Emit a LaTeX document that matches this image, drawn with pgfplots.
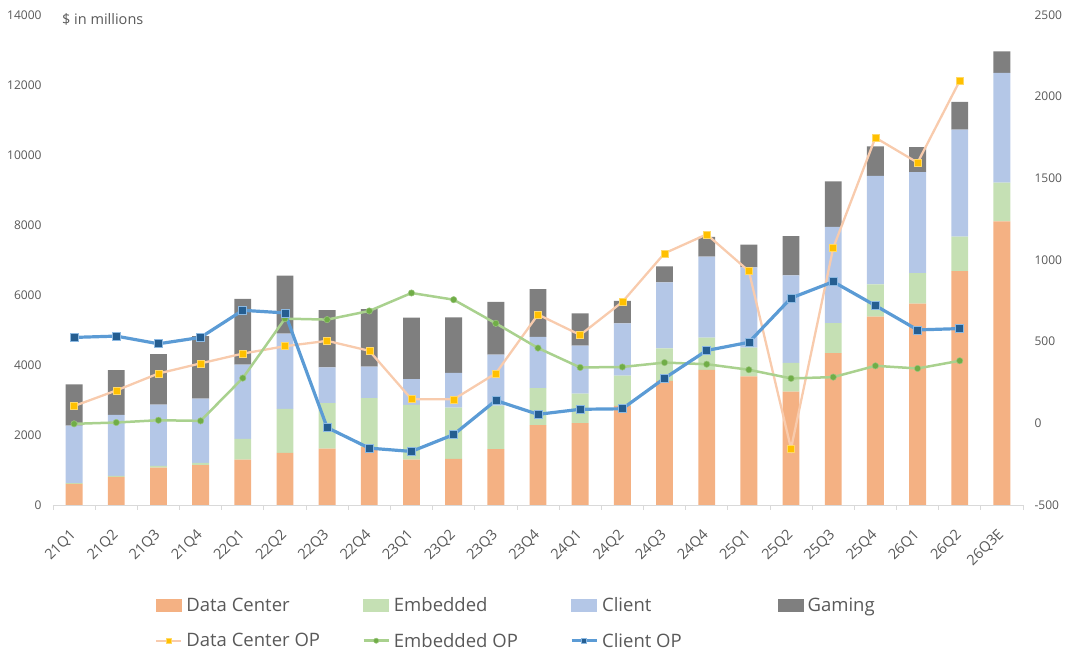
\documentclass[border=0pt]{standalone}
\usepackage{fontspec}
\setmainfont{Open Sans}
\usepackage{pgfplots}
\usepackage{pgfplotstable}
\pgfplotsset{compat=1.18}
\definecolor{dcbar}{HTML}{F4B183}
\definecolor{embbar}{HTML}{C5E0B4}
\definecolor{clibar}{HTML}{B4C7E7}
\definecolor{gambar}{HTML}{7F7F7F}
\definecolor{dcline}{HTML}{F8CBAD}
\definecolor{dcmark}{HTML}{FFC000}
\definecolor{embline}{HTML}{A9D18E}
\definecolor{embmark}{HTML}{70AD47}
\definecolor{cliline}{HTML}{5B9BD5}
\definecolor{climark}{HTML}{255E91}
\definecolor{txt}{HTML}{595959}
\definecolor{axg}{HTML}{D9D9D9}

\pgfplotstableread{
x DC Emb Cli Gam
0 600 25 1640 1180
1 800 30 1748 1272
2 1070 50 1748 1445
3 1140 60 1841 1785
4 1293 595 2124 1875
5 1486 1257 2152 1655
6 1609 1303 1022 1631
7 1655 1397 903 1644
8 1295 1562 739 1757
9 1321 1459 998 1581
10 1598 1243 1453 1506
11 2282 1057 1461 1368
12 2337 846 1368 922
13 2834 861 1492 648
14 3549 927 1881 462
15 3859 923 2313 563
16 3674 823 2294 647
17 3240 824 2499 1122
18 4341 857 2750 1295
19 5380 925 3100 840
20 5754 869 2887 715
21 6681 985 3061 791
22 8100 1111 3138 608
}\bars

\pgfplotstableread{
x DCOP EmbOP CliOP
0 106 -3 526
1 201 5 534
2 305 19 487
3 367 15 526
4 427 277 692
5 472 641 676
6 505 635 -26
7 444 688 -152
8 148 798 -172
9 147 757 -69
10 306 612 140
11 666 461 55
12 541 342 86
13 743 345 89
14 1041 372 276
15 1157 362 446
16 932 328 496
17 -155 275 767
18 1074 283 867
19 1749 352 721
20 1596 336 572
21 2097 383 580
}\ops

\begin{document}
\begin{tikzpicture}[x=1pt,y=1pt]
\useasboundingbox (0,0) rectangle (1080,661);
\begin{axis}[
  at={(53pt,156pt)}, anchor=south west, scale only axis,
  width=970pt, height=490pt,
  xmin=-0.5, xmax=22.5, ymin=0, ymax=14000,
  scaled y ticks=false,
  ybar stacked, bar width=0.4,
  axis x line*=bottom, axis y line*=left,
  x axis line style={axg, line width=0.8pt, -},
  y axis line style={draw=none},
  major tick length=0pt,
  xtick={0,...,22},
  xticklabels={21Q1,21Q2,21Q3,21Q4,22Q1,22Q2,22Q3,22Q4,23Q1,23Q2,23Q3,23Q4,24Q1,24Q2,24Q3,24Q4,25Q1,25Q2,25Q3,25Q4,26Q1,26Q2,26Q3E},
  minor xtick={-0.5,0.5,...,22.5},
  minor x tick style={axg, line width=0.8pt},
  minor tick length=5pt, tick align=outside,
  major x tick style={draw=none},
  major y tick style={draw=none},
  ytick={0,2000,...,14000},
  /pgf/number format/assume math mode=true,
  /pgf/number format/1000 sep={},
  yticklabel style={text=txt, font=\fontsize{12}{14}\selectfont, xshift=-8pt},
  xticklabel style={text=txt, font=\fontsize{14.5}{16}\selectfont, xshift=2pt, yshift=-25pt, rotate=45, anchor=east},
  every axis plot/.append style={draw=none},
]
\addplot[fill=dcbar] table[x=x,y=DC]{\bars};
\addplot[fill=embbar] table[x=x,y=Emb]{\bars};
\addplot[fill=clibar] table[x=x,y=Cli]{\bars};
\addplot[fill=gambar] table[x=x,y=Gam]{\bars};
\end{axis}

\begin{axis}[
  at={(53pt,156pt)}, anchor=south west, scale only axis,
  width=970pt, height=490pt,
  xmin=-0.5, xmax=22.5, ymin=-500, ymax=2500,
  scaled y ticks=false,
  axis x line=none, axis y line*=right,
  y axis line style={draw=none},
  major tick length=0pt,
  major y tick style={draw=none},
  ytick={-500,0,...,2500},
  /pgf/number format/assume math mode=true,
  /pgf/number format/1000 sep={},
  yticklabel style={text=txt, font=\fontsize{12}{14}\selectfont, xshift=8pt},
  legend columns=4,
  legend cell align=left,
  legend style={at={(0.102,-0.18)}, anchor=north west, draw=none, fill=none,
    font=\fontsize{18.5}{20}\selectfont, text=txt, row sep=16pt,
    /tikz/every odd column/.append style={column sep=2pt}},
  legend image code/.code={\draw[mark repeat=2,mark phase=2,#1, mark size=2.6pt] plot coordinates {(0pt,0pt) (12.5pt,0pt) (25pt,0pt)};},
]
\addlegendimage{legend image code/.code={\fill[dcbar] (0pt,-6pt) rectangle (25pt,6pt);}}
\addlegendentry{\makebox[174pt][l]{Data Center}}
\addlegendimage{legend image code/.code={\fill[embbar] (0pt,-6pt) rectangle (25pt,6pt);}}
\addlegendentry{\makebox[174pt][l]{Embedded}}
\addlegendimage{legend image code/.code={\fill[clibar] (0pt,-6pt) rectangle (25pt,6pt);}}
\addlegendentry{\makebox[174pt][l]{Client}}
\addlegendimage{legend image code/.code={\fill[gambar] (0pt,-6pt) rectangle (25pt,6pt);}}
\addlegendentry{Gaming}
\addplot[dcline, line width=2.3pt, mark=square*, mark size=3.5pt,
  mark options={fill=dcmark, draw=dcmark!60!white, line width=0.5pt}] table[x=x,y=DCOP]{\ops};
\addlegendentry{\makebox[174pt][l]{Data Center OP}}
\addplot[embline, line width=2.5pt, mark=*, mark size=3.2pt,
  mark options={fill=embmark, draw=embmark!70!white, line width=0.5pt}] table[x=x,y=EmbOP]{\ops};
\addlegendentry{\makebox[174pt][l]{Embedded OP}}
\addplot[cliline, line width=3.2pt, mark=square*, mark size=4pt,
  mark options={fill=climark, draw=cliline!70!white, line width=0.6pt}] table[x=x,y=CliOP]{\ops};
\addlegendentry{\makebox[174pt][l]{Client OP}}
\end{axis}
\node[anchor=west, text=txt, font=\fontsize{14.5}{16}\selectfont, inner sep=0pt] at (62,642) {\$ in millions};
\end{tikzpicture}
\end{document}
